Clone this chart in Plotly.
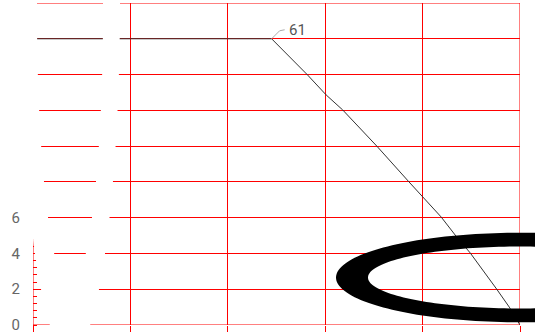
import math
import plotly.graph_objects as go

# ---- data ----
line_x = [0.0, 2.45, 2.82, 3.01, 3.18, 3.53, 3.86, 4.0, 4.19, 4.35, 4.49, 4.76, 4.89, 5.0]
line_y = [16.0, 16.0, 13.97, 12.86, 12.02, 10.0, 8.0, 7.15, 6.04, 4.92, 4.02, 2.01, 1.0, 0.0]
label_text = "61"
label_index = 1
y_tickvals = [0, 2, 4, 6, 8, 10, 12, 14, 16, 18]
y_ticktext = ["0", "2", "4", "6", "", "", "", "", "", ""]
x_tickvals = [0, 1, 2, 3, 4, 5]
y_range = [0, 18]
x_range = [0, 5]

W, H = 535, 332
ML, MR, MT, MB = 33, 15, 3, 7
PW, PH = W - ML - MR, H - MT - MB
GRID = "#ff0000"


def to_paper(px, py):
    return (px - ML) / PW, (MT + PH - py) / PH


def ellipse(cx, cy, rx, ry, n=180, reverse=False):
    pts = []
    for i in range(n):
        t = 2 * math.pi * i / n
        if reverse:
            t = -t
        pts.append(to_paper(cx + rx * math.cos(t), cy + ry * math.sin(t)))
    return "M" + " L".join(f"{x:.5f},{y:.5f}" for x, y in pts) + " Z"


def ring(outer, inner):
    return ellipse(*outer) + " " + ellipse(*inner, reverse=True)


fig = go.Figure()

# edge gridlines that plotly skips at the plot border
for yv in y_range:
    fig.add_shape(type="line", xref="paper", yref="y", x0=0, x1=1, y0=yv, y1=yv,
                  layer="below", line=dict(color=GRID, width=1))
for xv in x_range:
    fig.add_shape(type="line", xref="x", yref="paper", x0=xv, x1=xv, y0=0, y1=1,
                  layer="below", line=dict(color=GRID, width=1))

fig.add_trace(go.Scatter(x=line_x, y=line_y, mode="lines",
                         line=dict(color="#333333", width=1),
                         hoverinfo="skip", showlegend=False))

# white ring occluding the left part
fig.add_shape(type="path", xref="paper", yref="paper", layer="above",
              path=ring((70, 0, 50, 355), (70, 13, 33, 274)),
              fillcolor="white", line=dict(width=0))
# black ring lower right
fig.add_shape(type="path", xref="paper", yref="paper", layer="above",
              path=ring((520, 277.5, 184, 44.8), (520, 277.5, 152, 31)),
              fillcolor="black", line=dict(width=0))

# label leader line and text
lx, ly = line_x[label_index], line_y[label_index]
fig.add_shape(type="path", xref="x", yref="y", xsizemode="pixel", ysizemode="pixel",
              xanchor=lx, yanchor=ly, path="M0,0 L8,8 L13,9",
              line=dict(color="#aaaaaa", width=1))
fig.add_annotation(x=lx, y=ly, text=label_text, showarrow=False, xanchor="left",
                   yanchor="middle", xshift=15, yshift=9,
                   font=dict(family="Roboto", size=15, color="#555555"))

fig.update_layout(
    width=W, height=H,
    margin=dict(l=ML, r=MR, t=MT, b=MB, autoexpand=False),
    paper_bgcolor="white", plot_bgcolor="white",
    showlegend=False,
    font=dict(family="Roboto", size=15, color="#666666"),
    xaxis=dict(range=x_range, tickvals=x_tickvals, showticklabels=False,
               showgrid=True, gridcolor=GRID, gridwidth=1, automargin=False,
               ticks="outside", ticklen=7, tickcolor=GRID,
               zeroline=False, showline=False),
    yaxis=dict(range=y_range, tickvals=y_tickvals, ticktext=y_ticktext,
               showgrid=True, gridcolor=GRID, gridwidth=1, automargin=False,
               ticks="", ticklabelstandoff=12, ticklabeloverflow="allow",
               zeroline=False, showline=False,
               minor=dict(dtick=0.4, ticks="inside", ticklen=4,
                          tickcolor=GRID, showgrid=False)),
)

fig.write_html("out.html", config={"displayModeBar": False},
               post_script="document.body.style.margin='0';document.body.style.overflow='hidden';")
